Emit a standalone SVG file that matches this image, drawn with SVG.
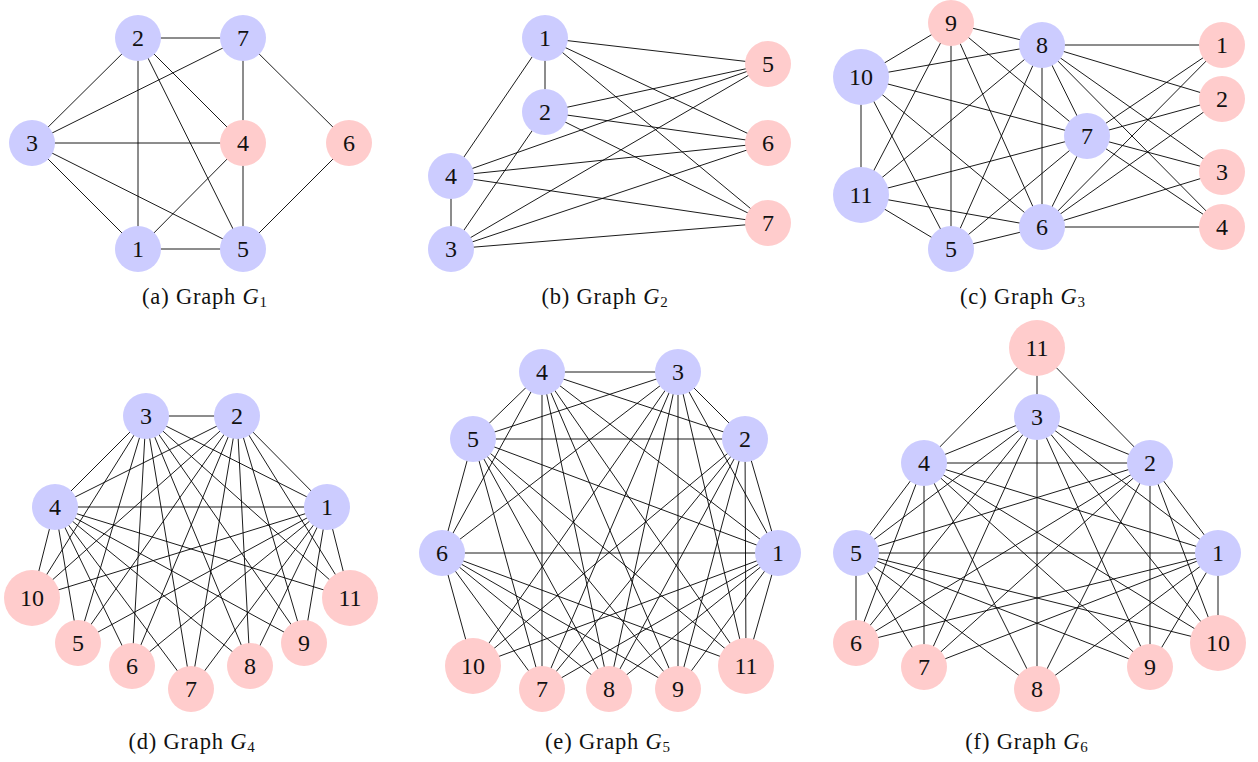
<svg xmlns="http://www.w3.org/2000/svg" width="1258" height="762" viewBox="0 0 1258 762">
<style>
.e line{stroke:#000;stroke-width:0.9}
.b{fill:#ccccff}
.p{fill:#ffcccc}
.n text{font-family:"Liberation Serif","DejaVu Serif",serif;font-size:24px;fill:#111;text-anchor:middle}
.cap{font-family:"Liberation Serif","DejaVu Serif",serif;font-size:22.5px;letter-spacing:0.8px;fill:#111;text-anchor:middle}
.sub{font-size:15px}
</style>
<rect width="1258" height="762" fill="#fff"/>

<!-- Graph G1 -->
<g id="G1">
<g id="G1-edges" class="e">
<line x1="138" y1="38" x2="243" y2="38"/>
<line x1="138" y1="38" x2="32" y2="143"/>
<line x1="138" y1="38" x2="138" y2="249"/>
<line x1="138" y1="38" x2="243" y2="249"/>
<line x1="138" y1="38" x2="243" y2="143"/>
<line x1="243" y1="38" x2="32" y2="143"/>
<line x1="243" y1="38" x2="243" y2="143"/>
<line x1="243" y1="38" x2="349" y2="143"/>
<line x1="32" y1="143" x2="243" y2="143"/>
<line x1="32" y1="143" x2="138" y2="249"/>
<line x1="32" y1="143" x2="243" y2="249"/>
<line x1="243" y1="143" x2="138" y2="249"/>
<line x1="243" y1="143" x2="243" y2="249"/>
<line x1="349" y1="143" x2="243" y2="249"/>
<line x1="138" y1="249" x2="243" y2="249"/>
</g>
<g id="G1-n1" class="n"><circle class="b" cx="138" cy="249" r="23"/><text x="138" y="257">1</text></g>
<g id="G1-n2" class="n"><circle class="b" cx="138" cy="38" r="23"/><text x="138" y="46">2</text></g>
<g id="G1-n3" class="n"><circle class="b" cx="32" cy="143" r="23"/><text x="32" y="151">3</text></g>
<g id="G1-n4" class="n"><circle class="p" cx="243" cy="143" r="23"/><text x="243" y="151">4</text></g>
<g id="G1-n5" class="n"><circle class="b" cx="243" cy="249" r="23"/><text x="243" y="257">5</text></g>
<g id="G1-n6" class="n"><circle class="p" cx="349" cy="143" r="23"/><text x="349" y="151">6</text></g>
<g id="G1-n7" class="n"><circle class="b" cx="243" cy="38" r="23"/><text x="243" y="46">7</text></g>
<text class="cap" x="205" y="304">(a) Graph <tspan font-style="italic">G</tspan><tspan class="sub" dy="3">1</tspan></text>
</g>

<!-- Graph G2 -->
<g id="G2">
<g id="G2-edges" class="e">
<line x1="545" y1="38" x2="545" y2="112"/>
<line x1="545" y1="38" x2="451" y2="176"/>
<line x1="545" y1="112" x2="451" y2="249"/>
<line x1="451" y1="249" x2="451" y2="176"/>
<line x1="545" y1="38" x2="768" y2="64"/>
<line x1="545" y1="38" x2="768" y2="143"/>
<line x1="545" y1="38" x2="768" y2="223"/>
<line x1="545" y1="112" x2="768" y2="64"/>
<line x1="545" y1="112" x2="768" y2="143"/>
<line x1="545" y1="112" x2="768" y2="223"/>
<line x1="451" y1="249" x2="768" y2="64"/>
<line x1="451" y1="249" x2="768" y2="143"/>
<line x1="451" y1="249" x2="768" y2="223"/>
<line x1="451" y1="176" x2="768" y2="64"/>
<line x1="451" y1="176" x2="768" y2="143"/>
<line x1="451" y1="176" x2="768" y2="223"/>
</g>
<g id="G2-n1" class="n"><circle class="b" cx="545" cy="38" r="23"/><text x="545" y="46">1</text></g>
<g id="G2-n2" class="n"><circle class="b" cx="545" cy="112" r="23"/><text x="545" y="120">2</text></g>
<g id="G2-n3" class="n"><circle class="b" cx="451" cy="249" r="23"/><text x="451" y="257">3</text></g>
<g id="G2-n4" class="n"><circle class="b" cx="451" cy="176" r="23"/><text x="451" y="184">4</text></g>
<g id="G2-n5" class="n"><circle class="p" cx="768" cy="64" r="23"/><text x="768" y="72">5</text></g>
<g id="G2-n6" class="n"><circle class="p" cx="768" cy="143" r="23"/><text x="768" y="151">6</text></g>
<g id="G2-n7" class="n"><circle class="p" cx="768" cy="223" r="23"/><text x="768" y="231">7</text></g>
<text class="cap" x="605" y="304">(b) Graph <tspan font-style="italic">G</tspan><tspan class="sub" dy="3">2</tspan></text>
</g>

<!-- Graph G3 -->
<g id="G3">
<g id="G3-edges" class="e">
<line x1="951" y1="23" x2="861" y2="77"/>
<line x1="951" y1="23" x2="1042" y2="45"/>
<line x1="951" y1="23" x2="861" y2="195"/>
<line x1="951" y1="23" x2="951" y2="249"/>
<line x1="951" y1="23" x2="1042" y2="227"/>
<line x1="951" y1="23" x2="1087" y2="136"/>
<line x1="1042" y1="45" x2="861" y2="77"/>
<line x1="1042" y1="45" x2="1222" y2="45"/>
<line x1="1042" y1="45" x2="1222" y2="99"/>
<line x1="1042" y1="45" x2="1222" y2="172"/>
<line x1="1042" y1="45" x2="1222" y2="227"/>
<line x1="1042" y1="45" x2="1087" y2="136"/>
<line x1="1042" y1="45" x2="1042" y2="227"/>
<line x1="1042" y1="45" x2="861" y2="195"/>
<line x1="1042" y1="45" x2="951" y2="249"/>
<line x1="861" y1="77" x2="1087" y2="136"/>
<line x1="861" y1="77" x2="861" y2="195"/>
<line x1="861" y1="77" x2="951" y2="249"/>
<line x1="861" y1="77" x2="1042" y2="227"/>
<line x1="861" y1="195" x2="1087" y2="136"/>
<line x1="861" y1="195" x2="1042" y2="227"/>
<line x1="861" y1="195" x2="951" y2="249"/>
<line x1="1087" y1="136" x2="1222" y2="45"/>
<line x1="1087" y1="136" x2="1222" y2="99"/>
<line x1="1087" y1="136" x2="1222" y2="172"/>
<line x1="1087" y1="136" x2="1222" y2="227"/>
<line x1="1087" y1="136" x2="1042" y2="227"/>
<line x1="1087" y1="136" x2="951" y2="249"/>
<line x1="1042" y1="227" x2="951" y2="249"/>
<line x1="1042" y1="227" x2="1222" y2="45"/>
<line x1="1042" y1="227" x2="1222" y2="99"/>
<line x1="1042" y1="227" x2="1222" y2="172"/>
<line x1="1042" y1="227" x2="1222" y2="227"/>
</g>
<g id="G3-n1" class="n"><circle class="p" cx="1222" cy="45" r="23"/><text x="1222" y="53">1</text></g>
<g id="G3-n2" class="n"><circle class="p" cx="1222" cy="99" r="23"/><text x="1222" y="107">2</text></g>
<g id="G3-n3" class="n"><circle class="p" cx="1222" cy="172" r="23"/><text x="1222" y="180">3</text></g>
<g id="G3-n4" class="n"><circle class="p" cx="1222" cy="227" r="23"/><text x="1222" y="235">4</text></g>
<g id="G3-n5" class="n"><circle class="b" cx="951" cy="249" r="23"/><text x="951" y="257">5</text></g>
<g id="G3-n6" class="n"><circle class="b" cx="1042" cy="227" r="23"/><text x="1042" y="235">6</text></g>
<g id="G3-n7" class="n"><circle class="b" cx="1087" cy="136" r="23"/><text x="1087" y="144">7</text></g>
<g id="G3-n8" class="n"><circle class="b" cx="1042" cy="45" r="23"/><text x="1042" y="53">8</text></g>
<g id="G3-n9" class="n"><circle class="p" cx="951" cy="23" r="23"/><text x="951" y="31">9</text></g>
<g id="G3-n10" class="n"><circle class="b" cx="861" cy="77" r="28"/><text x="861" y="85">10</text></g>
<g id="G3-n11" class="n"><circle class="b" cx="861" cy="195" r="28"/><text x="861" y="203">11</text></g>
<text class="cap" x="1023" y="304">(c) Graph <tspan font-style="italic">G</tspan><tspan class="sub" dy="3">3</tspan></text>
</g>

<!-- Graph G4 -->
<g id="G4">
<g id="G4-edges" class="e">
<line x1="327" y1="507" x2="237" y2="416"/>
<line x1="327" y1="507" x2="146" y2="416"/>
<line x1="327" y1="507" x2="55" y2="507"/>
<line x1="237" y1="416" x2="146" y2="416"/>
<line x1="237" y1="416" x2="55" y2="507"/>
<line x1="146" y1="416" x2="55" y2="507"/>
<line x1="327" y1="507" x2="78" y2="643"/>
<line x1="327" y1="507" x2="132" y2="666"/>
<line x1="327" y1="507" x2="191" y2="689"/>
<line x1="327" y1="507" x2="250" y2="666"/>
<line x1="327" y1="507" x2="304" y2="643"/>
<line x1="327" y1="507" x2="32" y2="598"/>
<line x1="327" y1="507" x2="350" y2="598"/>
<line x1="237" y1="416" x2="78" y2="643"/>
<line x1="237" y1="416" x2="132" y2="666"/>
<line x1="237" y1="416" x2="191" y2="689"/>
<line x1="237" y1="416" x2="250" y2="666"/>
<line x1="237" y1="416" x2="304" y2="643"/>
<line x1="237" y1="416" x2="32" y2="598"/>
<line x1="237" y1="416" x2="350" y2="598"/>
<line x1="146" y1="416" x2="78" y2="643"/>
<line x1="146" y1="416" x2="132" y2="666"/>
<line x1="146" y1="416" x2="191" y2="689"/>
<line x1="146" y1="416" x2="250" y2="666"/>
<line x1="146" y1="416" x2="304" y2="643"/>
<line x1="146" y1="416" x2="32" y2="598"/>
<line x1="146" y1="416" x2="350" y2="598"/>
<line x1="55" y1="507" x2="78" y2="643"/>
<line x1="55" y1="507" x2="132" y2="666"/>
<line x1="55" y1="507" x2="191" y2="689"/>
<line x1="55" y1="507" x2="250" y2="666"/>
<line x1="55" y1="507" x2="304" y2="643"/>
<line x1="55" y1="507" x2="32" y2="598"/>
<line x1="55" y1="507" x2="350" y2="598"/>
</g>
<g id="G4-n1" class="n"><circle class="b" cx="327" cy="507" r="23"/><text x="327" y="515">1</text></g>
<g id="G4-n2" class="n"><circle class="b" cx="237" cy="416" r="23"/><text x="237" y="424">2</text></g>
<g id="G4-n3" class="n"><circle class="b" cx="146" cy="416" r="23"/><text x="146" y="424">3</text></g>
<g id="G4-n4" class="n"><circle class="b" cx="55" cy="507" r="23"/><text x="55" y="515">4</text></g>
<g id="G4-n5" class="n"><circle class="p" cx="78" cy="643" r="23"/><text x="78" y="651">5</text></g>
<g id="G4-n6" class="n"><circle class="p" cx="132" cy="666" r="23"/><text x="132" y="674">6</text></g>
<g id="G4-n7" class="n"><circle class="p" cx="191" cy="689" r="23"/><text x="191" y="697">7</text></g>
<g id="G4-n8" class="n"><circle class="p" cx="250" cy="666" r="23"/><text x="250" y="674">8</text></g>
<g id="G4-n9" class="n"><circle class="p" cx="304" cy="643" r="23"/><text x="304" y="651">9</text></g>
<g id="G4-n10" class="n"><circle class="p" cx="32" cy="598" r="28"/><text x="32" y="606">10</text></g>
<g id="G4-n11" class="n"><circle class="p" cx="350" cy="598" r="28"/><text x="350" y="606">11</text></g>
<text class="cap" x="192" y="749">(d) Graph <tspan font-style="italic">G</tspan><tspan class="sub" dy="3">4</tspan></text>
</g>

<!-- Graph G5 -->
<g id="G5">
<g id="G5-edges" class="e">
<line x1="778" y1="553" x2="745" y2="439"/>
<line x1="778" y1="553" x2="678" y2="372"/>
<line x1="778" y1="553" x2="542" y2="372"/>
<line x1="778" y1="553" x2="473" y2="439"/>
<line x1="778" y1="553" x2="442" y2="553"/>
<line x1="745" y1="439" x2="678" y2="372"/>
<line x1="745" y1="439" x2="542" y2="372"/>
<line x1="745" y1="439" x2="473" y2="439"/>
<line x1="678" y1="372" x2="542" y2="372"/>
<line x1="678" y1="372" x2="473" y2="439"/>
<line x1="678" y1="372" x2="442" y2="553"/>
<line x1="542" y1="372" x2="473" y2="439"/>
<line x1="542" y1="372" x2="442" y2="553"/>
<line x1="473" y1="439" x2="442" y2="553"/>
<line x1="473" y1="666" x2="778" y2="553"/>
<line x1="473" y1="666" x2="745" y2="439"/>
<line x1="473" y1="666" x2="678" y2="372"/>
<line x1="473" y1="666" x2="442" y2="553"/>
<line x1="542" y1="689" x2="778" y2="553"/>
<line x1="542" y1="689" x2="745" y2="439"/>
<line x1="542" y1="689" x2="678" y2="372"/>
<line x1="542" y1="689" x2="542" y2="372"/>
<line x1="542" y1="689" x2="473" y2="439"/>
<line x1="542" y1="689" x2="442" y2="553"/>
<line x1="609" y1="689" x2="778" y2="553"/>
<line x1="609" y1="689" x2="745" y2="439"/>
<line x1="609" y1="689" x2="678" y2="372"/>
<line x1="609" y1="689" x2="542" y2="372"/>
<line x1="609" y1="689" x2="473" y2="439"/>
<line x1="609" y1="689" x2="442" y2="553"/>
<line x1="678" y1="689" x2="778" y2="553"/>
<line x1="678" y1="689" x2="745" y2="439"/>
<line x1="678" y1="689" x2="678" y2="372"/>
<line x1="678" y1="689" x2="542" y2="372"/>
<line x1="678" y1="689" x2="473" y2="439"/>
<line x1="678" y1="689" x2="442" y2="553"/>
<line x1="746" y1="666" x2="778" y2="553"/>
<line x1="746" y1="666" x2="745" y2="439"/>
<line x1="746" y1="666" x2="678" y2="372"/>
<line x1="746" y1="666" x2="542" y2="372"/>
<line x1="746" y1="666" x2="473" y2="439"/>
<line x1="746" y1="666" x2="442" y2="553"/>
</g>
<g id="G5-n1" class="n"><circle class="b" cx="778" cy="553" r="23"/><text x="778" y="561">1</text></g>
<g id="G5-n2" class="n"><circle class="b" cx="745" cy="439" r="23"/><text x="745" y="447">2</text></g>
<g id="G5-n3" class="n"><circle class="b" cx="678" cy="372" r="23"/><text x="678" y="380">3</text></g>
<g id="G5-n4" class="n"><circle class="b" cx="542" cy="372" r="23"/><text x="542" y="380">4</text></g>
<g id="G5-n5" class="n"><circle class="b" cx="473" cy="439" r="23"/><text x="473" y="447">5</text></g>
<g id="G5-n6" class="n"><circle class="b" cx="442" cy="553" r="23"/><text x="442" y="561">6</text></g>
<g id="G5-n7" class="n"><circle class="p" cx="542" cy="689" r="23"/><text x="542" y="697">7</text></g>
<g id="G5-n8" class="n"><circle class="p" cx="609" cy="689" r="23"/><text x="609" y="697">8</text></g>
<g id="G5-n9" class="n"><circle class="p" cx="678" cy="689" r="23"/><text x="678" y="697">9</text></g>
<g id="G5-n10" class="n"><circle class="p" cx="473" cy="666" r="28"/><text x="473" y="674">10</text></g>
<g id="G5-n11" class="n"><circle class="p" cx="746" cy="666" r="28"/><text x="746" y="674">11</text></g>
<text class="cap" x="608" y="749">(e) Graph <tspan font-style="italic">G</tspan><tspan class="sub" dy="3">5</tspan></text>
</g>

<!-- Graph G6 -->
<g id="G6">
<g id="G6-edges" class="e">
<line x1="1037" y1="348" x2="1150" y2="463"/>
<line x1="1037" y1="348" x2="1037" y2="417"/>
<line x1="1037" y1="348" x2="924" y2="463"/>
<line x1="1218" y1="553" x2="1150" y2="463"/>
<line x1="1218" y1="553" x2="1037" y2="417"/>
<line x1="1218" y1="553" x2="924" y2="463"/>
<line x1="1218" y1="553" x2="856" y2="553"/>
<line x1="1150" y1="463" x2="1037" y2="417"/>
<line x1="1150" y1="463" x2="924" y2="463"/>
<line x1="1150" y1="463" x2="856" y2="553"/>
<line x1="1037" y1="417" x2="924" y2="463"/>
<line x1="1037" y1="417" x2="856" y2="553"/>
<line x1="924" y1="463" x2="856" y2="553"/>
<line x1="856" y1="643" x2="1218" y2="553"/>
<line x1="856" y1="643" x2="1150" y2="463"/>
<line x1="856" y1="643" x2="1037" y2="417"/>
<line x1="856" y1="643" x2="924" y2="463"/>
<line x1="856" y1="643" x2="856" y2="553"/>
<line x1="924" y1="667" x2="1218" y2="553"/>
<line x1="924" y1="667" x2="1150" y2="463"/>
<line x1="924" y1="667" x2="1037" y2="417"/>
<line x1="924" y1="667" x2="924" y2="463"/>
<line x1="924" y1="667" x2="856" y2="553"/>
<line x1="1037" y1="689" x2="1218" y2="553"/>
<line x1="1037" y1="689" x2="1150" y2="463"/>
<line x1="1037" y1="689" x2="1037" y2="417"/>
<line x1="1037" y1="689" x2="924" y2="463"/>
<line x1="1037" y1="689" x2="856" y2="553"/>
<line x1="1150" y1="667" x2="1218" y2="553"/>
<line x1="1150" y1="667" x2="1150" y2="463"/>
<line x1="1150" y1="667" x2="1037" y2="417"/>
<line x1="1150" y1="667" x2="924" y2="463"/>
<line x1="1150" y1="667" x2="856" y2="553"/>
<line x1="1218" y1="643" x2="1218" y2="553"/>
<line x1="1218" y1="643" x2="1150" y2="463"/>
<line x1="1218" y1="643" x2="1037" y2="417"/>
<line x1="1218" y1="643" x2="924" y2="463"/>
<line x1="1218" y1="643" x2="856" y2="553"/>
</g>
<g id="G6-n1" class="n"><circle class="b" cx="1218" cy="553" r="23"/><text x="1218" y="561">1</text></g>
<g id="G6-n2" class="n"><circle class="b" cx="1150" cy="463" r="23"/><text x="1150" y="471">2</text></g>
<g id="G6-n3" class="n"><circle class="b" cx="1037" cy="417" r="23"/><text x="1037" y="425">3</text></g>
<g id="G6-n4" class="n"><circle class="b" cx="924" cy="463" r="23"/><text x="924" y="471">4</text></g>
<g id="G6-n5" class="n"><circle class="b" cx="856" cy="553" r="23"/><text x="856" y="561">5</text></g>
<g id="G6-n6" class="n"><circle class="p" cx="856" cy="643" r="23"/><text x="856" y="651">6</text></g>
<g id="G6-n7" class="n"><circle class="p" cx="924" cy="667" r="23"/><text x="924" y="675">7</text></g>
<g id="G6-n8" class="n"><circle class="p" cx="1037" cy="689" r="23"/><text x="1037" y="697">8</text></g>
<g id="G6-n9" class="n"><circle class="p" cx="1150" cy="667" r="23"/><text x="1150" y="675">9</text></g>
<g id="G6-n10" class="n"><circle class="p" cx="1218" cy="643" r="28"/><text x="1218" y="651">10</text></g>
<g id="G6-n11" class="n"><circle class="p" cx="1037" cy="348" r="28"/><text x="1037" y="356">11</text></g>
<text class="cap" x="1027" y="749">(f) Graph <tspan font-style="italic">G</tspan><tspan class="sub" dy="3">6</tspan></text>
</g>
</svg>
